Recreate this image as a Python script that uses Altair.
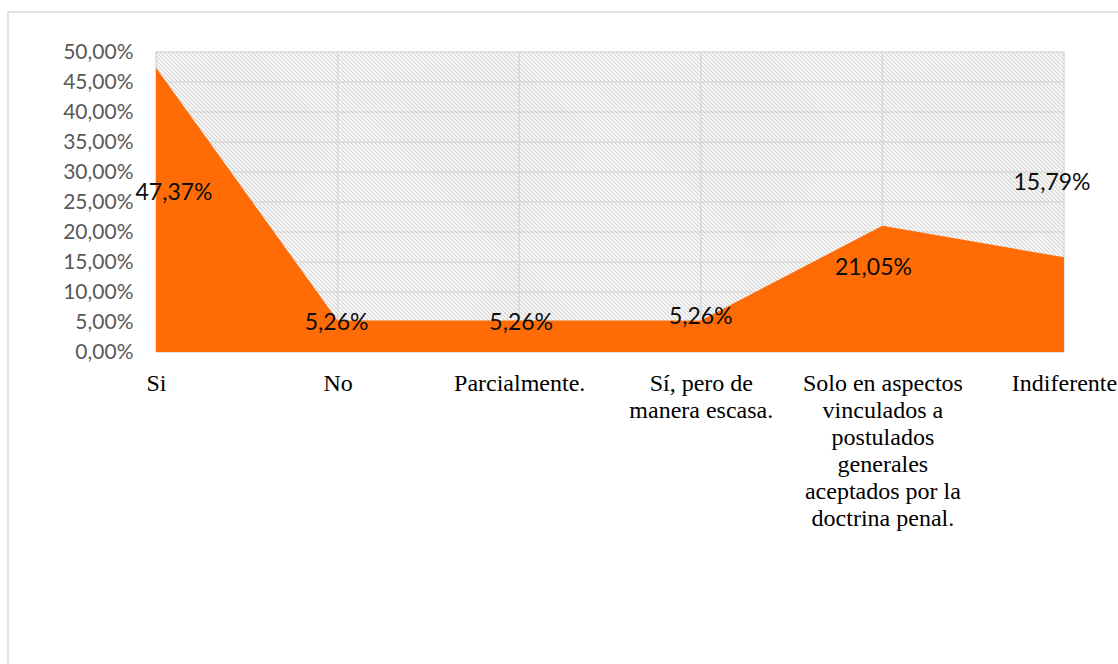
import altair as alt
import pandas as pd

categories = [
    "Si",
    "No",
    "Parcialmente.",
    "Sí, pero de\nmanera escasa.",
    "Solo en aspectos\nvinculados a\npostulados\ngenerales\naceptados por la\ndoctrina penal.",
    "Indiferente",
]
values = [0.4737, 0.0526, 0.0526, 0.0526, 0.2105, 0.1579]
labels = ["47,37%", "5,26%", "5,26%", "5,26%", "21,05%", "15,79%"]
y_ticks = [0.0, 0.05, 0.10, 0.15, 0.20, 0.25, 0.30, 0.35, 0.40, 0.45, 0.50]

# label placement (as in the original, labels sit off the points)
label_y_pos = [0.265, 0.0483, 0.0483, 0.0583, 0.1395, 0.281]
label_dx = [18, -1, 2, 0, -9, -12]

W, H = 908, 300
PAD = {"left": 156, "top": 52, "right": 54, "bottom": 312}
HATCH_STEP = 4

df = pd.DataFrame({"cat": categories, "value": values})
lab_df = pd.DataFrame({"cat": categories, "label": labels, "ly": label_y_pos})
ticks_df = pd.DataFrame({"v": y_ticks})
cat_df = pd.DataFrame({"cat": categories})
one = pd.DataFrame({"a": [0]})

x_scale = alt.Scale(type="point", padding=0)
y_scale = alt.Scale(domain=[0, 0.5], nice=False)

x_axis = alt.Axis(
    title=None,
    labelAngle=0,
    labelFont="Liberation Serif",
    labelFontSize=24,
    labelColor="#000000",
    labelPadding=31,
    labelLineHeight=27,
    labelBaseline="middle",
    labelExpr="split(datum.label, '\\n')",
    ticks=False,
    domain=False,
    grid=False,
    labelOverlap=False,
    labelAlign="center",
)
y_axis = alt.Axis(
    title=None,
    values=y_ticks,
    tickCount=11,
    labelExpr="replace(format(datum.value, '.2%'), '.', ',')",
    grid=False,
    domain=False,
    ticks=False,
    labelOverlap=False,
    labelFont="Lato",
    labelFontSize=21,
    labelColor="#595959",
    labelPadding=23,
)

border = alt.Chart(one).mark_rect(fill="transparent", stroke="#d9d9d9", strokeWidth=1.5).encode(
    x=alt.value(-148), x2=alt.value(1100), y=alt.value(-40), y2=alt.value(700)
)

# background hatch (light downward diagonal pattern) of the plot area
hatch = (
    alt.Chart(alt.sequence(-H, W, HATCH_STEP, as_="c"))
    .transform_calculate(
        hx1="max(datum.c, 0)",
        hy1="max(-datum.c, 0)",
        hx2=f"min(datum.c + {H}, {W})",
        hy2=f"min({W} - datum.c, {H})",
    )
    .mark_rule(color="#d6d6d6", strokeWidth=1.3)
    .encode(
        x=alt.X("hx1:Q", scale=None, axis=None),
        x2="hx2:Q",
        y=alt.Y("hy1:Q", scale=None, axis=None),
        y2="hy2:Q",
    )
)

hgrid = alt.Chart(ticks_df).mark_rule(color="#d9d9d9", strokeWidth=1.5).encode(
    y=alt.Y("v:Q", scale=y_scale, axis=y_axis)
)
vgrid = alt.Chart(cat_df).mark_rule(color="#d9d9d9", strokeWidth=1.5).encode(
    x=alt.X("cat:N", sort=categories, scale=x_scale, axis=x_axis)
)

area = alt.Chart(df).mark_area(color="#FF6C05", opacity=1, interpolate="linear").encode(
    x=alt.X("cat:N", sort=categories, scale=x_scale, axis=x_axis),
    y=alt.Y("value:Q", scale=y_scale, axis=y_axis),
)

text_layers = []
for i, c in enumerate(categories):
    t = alt.Chart(lab_df.iloc[[i]]).mark_text(
        font="Lato", fontSize=23, color="#0d0d0d", baseline="middle", align="center", dx=label_dx[i]
    ).encode(
        x=alt.X("cat:N", sort=categories, scale=x_scale, axis=x_axis),
        y=alt.Y("ly:Q", scale=y_scale, axis=y_axis),
        text="label:N",
    )
    text_layers.append(t)

chart = alt.layer(border, hatch, hgrid, vgrid, area, *text_layers).properties(
    width=W,
    height=H,
    padding=PAD,
    autosize=alt.AutoSizeParams(type="none"),
    background="white",
).configure_view(stroke=None)

chart.save("out.html", embed_options={"renderer": "svg", "actions": False})
